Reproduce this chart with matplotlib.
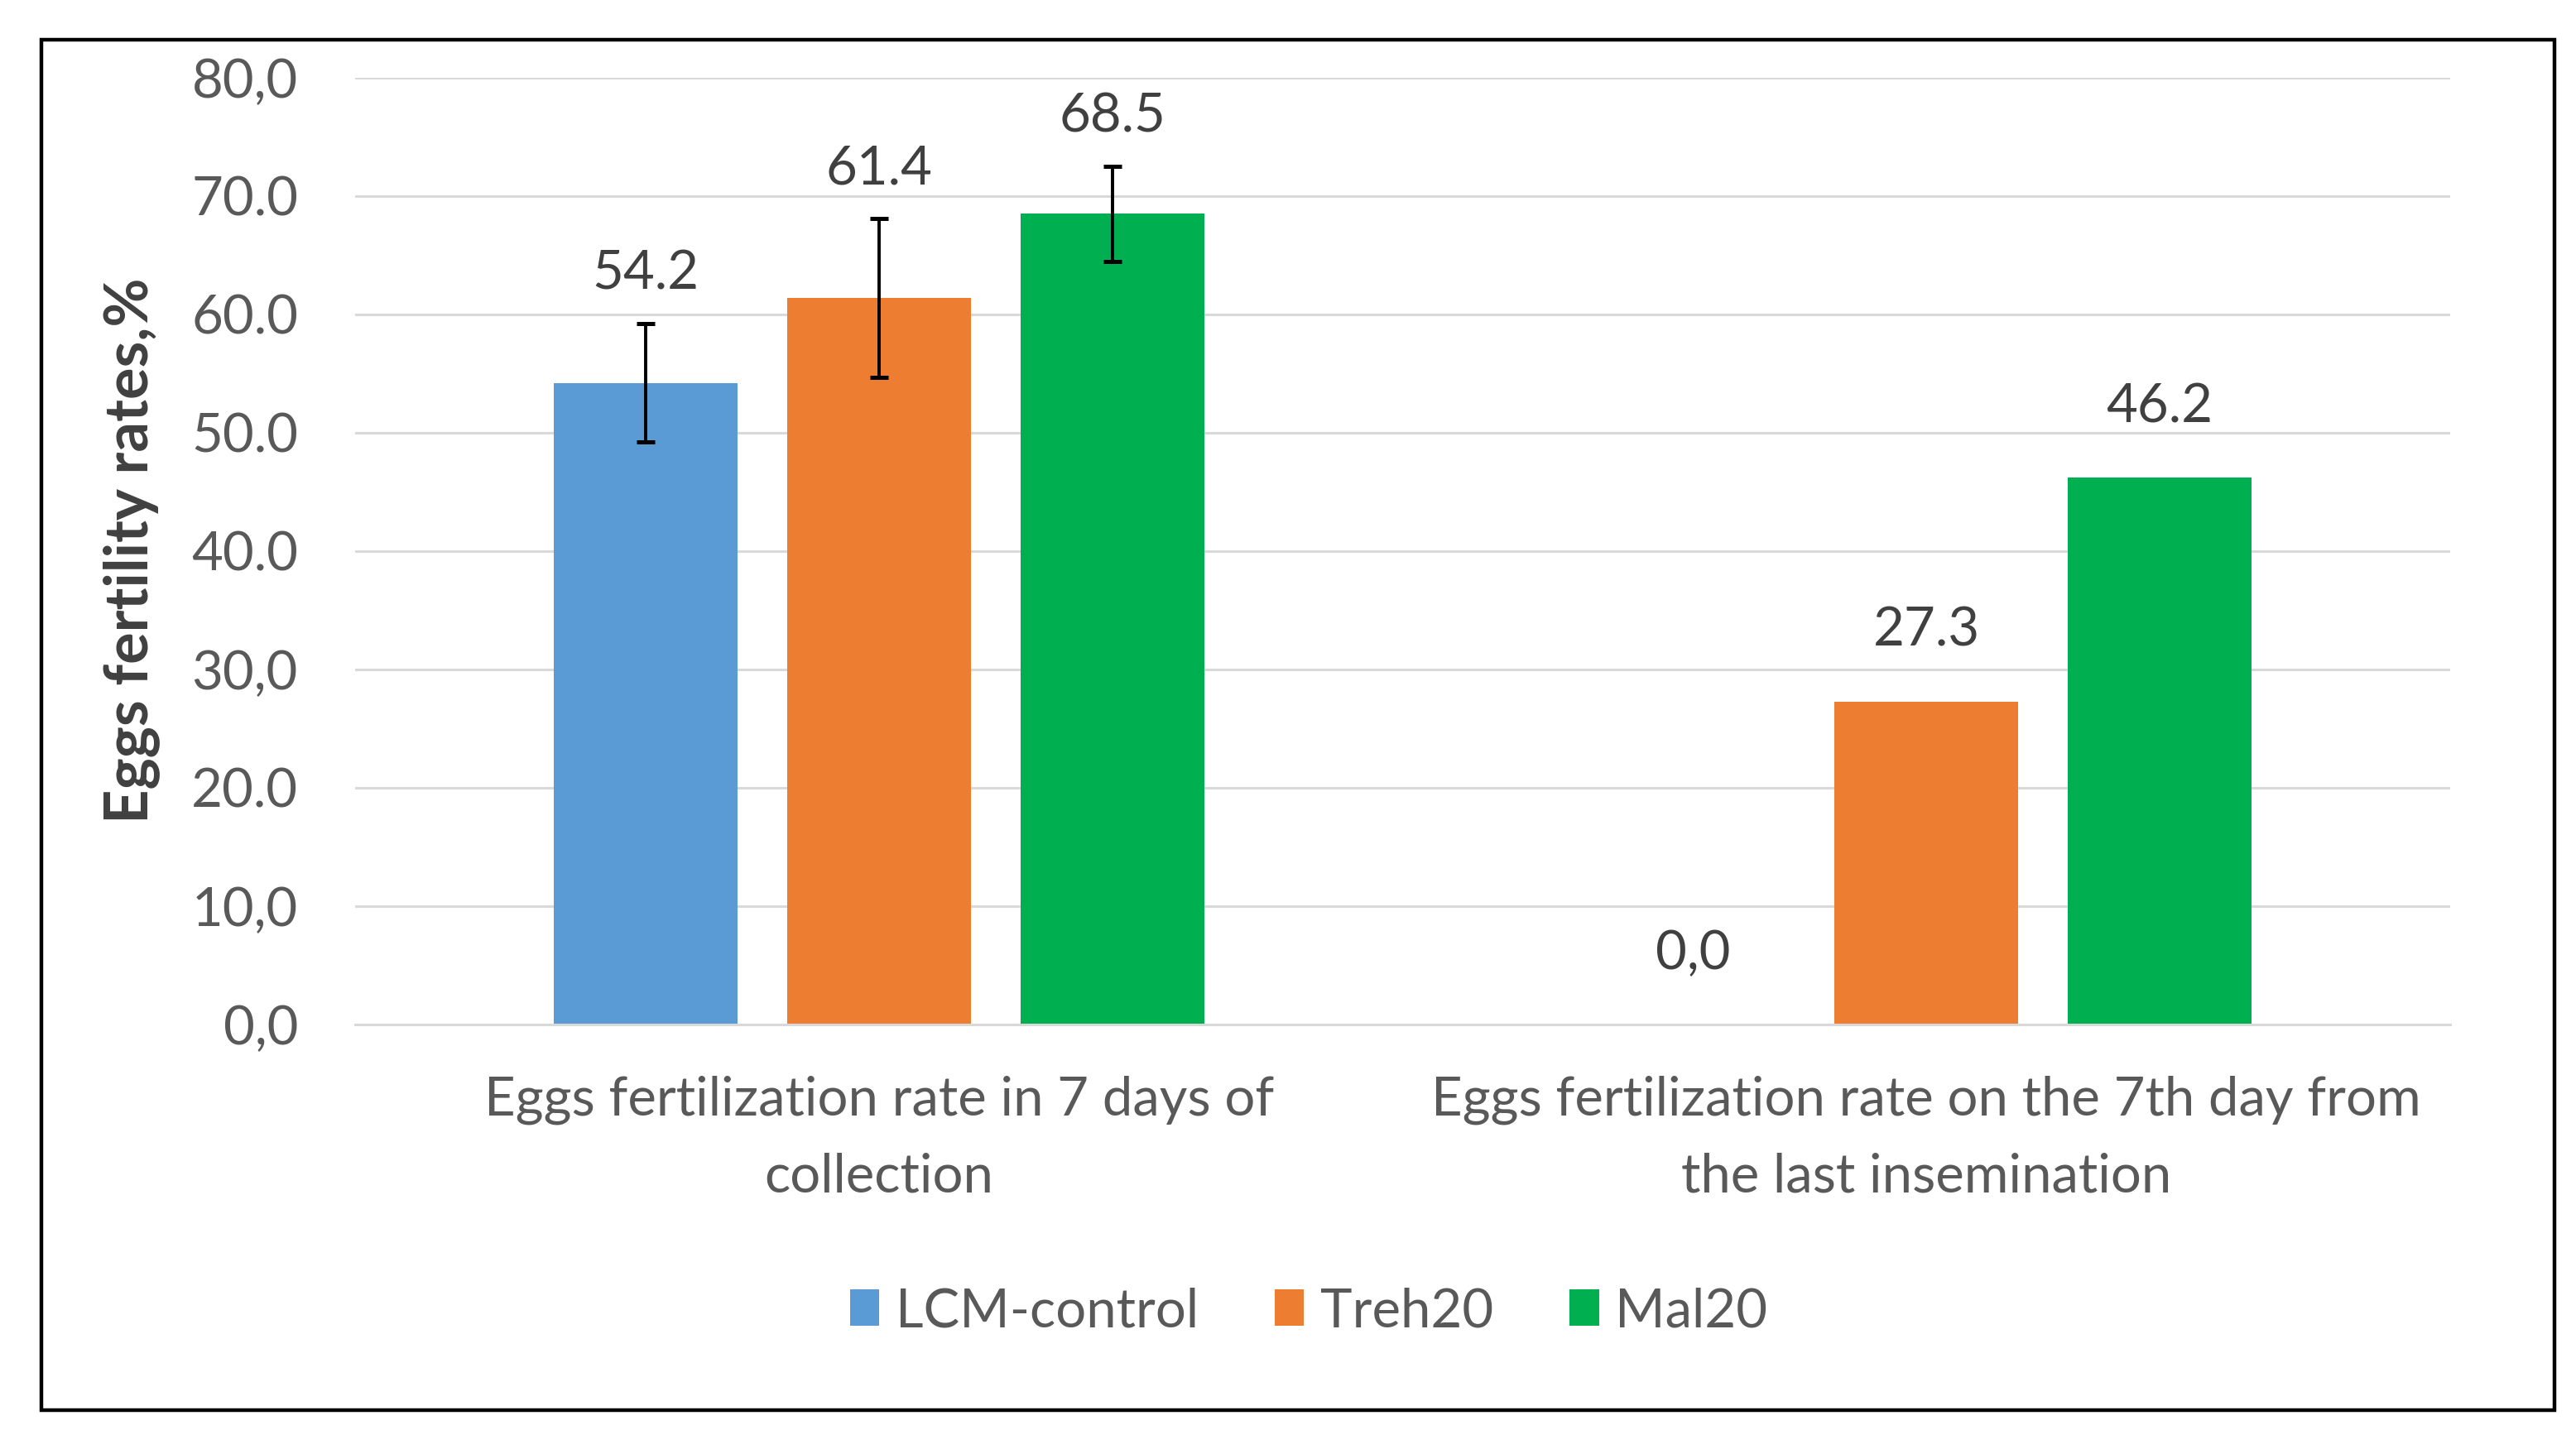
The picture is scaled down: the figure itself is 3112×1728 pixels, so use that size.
import matplotlib.pyplot as plt
import numpy as np
from matplotlib.patches import Rectangle

plt.rcParams['font.family'] = ['Lato', 'DejaVu Sans']

categories = ["Eggs fertilization rate in 7 days of\ncollection",
              "Eggs fertilization rate on the 7th day from\nthe last insemination"]
series = ["LCM-control", "Treh20", "Mal20"]
colors = ["#5B9BD5", "#ED7D31", "#00B050"]

lcm = [54.2, 0.0]
treh = [61.4, 27.3]
mal = [68.5, 46.2]
lcm_err = [5.0, 0.0]
treh_err = [6.7, 0.0]
mal_err = [4.0, 0.0]
lcm_lbl = ["54.2", "0,0"]
treh_lbl = ["61.4", "27.3"]
mal_lbl = ["68.5", "46.2"]

yticks = [0, 10, 20, 30, 40, 50, 60, 70, 80]
ytick_labels = ["0,0", "10,0", "20.0", "30,0", "40.0", "50.0", "60.0", "70.0", "80,0"]

fig = plt.figure(figsize=(15.56, 8.64), dpi=200)
ax = fig.add_axes([0.138, 0.2836, 0.813, 0.662])

x = np.arange(len(categories))
width = 0.175
step = 0.223
text_col = "#595959"
fs = 23.5

vals = [lcm, treh, mal]
errs = [lcm_err, treh_err, mal_err]
lbls = [lcm_lbl, treh_lbl, mal_lbl]
for i, (v, e, l, c, name) in enumerate(zip(vals, errs, lbls, colors, series)):
    pos = x + (i - 1) * step
    ax.bar(pos, v, width, color=c, label=name, zorder=2)
    for j in range(len(categories)):
        if e[j] > 0:
            ax.errorbar(pos[j], v[j], yerr=e[j], fmt='none', ecolor='black',
                        elinewidth=1.4, capsize=4, capthick=1.8, zorder=3)
            ly = v[j] + e[j] + 4.2
        else:
            ly = v[j] + 6.0
        ax.text(pos[j], ly, l[j], ha='center', va='center',
                fontsize=fs, color="#404040", zorder=4)

ax.set_xlim(-0.5, 1.5)
ax.set_ylim(0, 80)
ax.set_yticks(yticks)
ax.set_yticklabels(ytick_labels, fontsize=fs, color=text_col)
ax.set_xticks(x)
ax.set_xticklabels(categories, fontsize=fs, color=text_col, linespacing=1.7)
ax.tick_params(axis='both', length=0)
ax.tick_params(axis='y', pad=25)
ax.tick_params(axis='x', pad=22)
ax.yaxis.grid(True, color="#d9d9d9", linewidth=1.1, zorder=0)
ax.set_axisbelow(True)
for s in ['top', 'right', 'left']:
    ax.spines[s].set_visible(False)
ax.spines['bottom'].set_color("#d9d9d9")
ax.spines['bottom'].set_linewidth(1.1)

fig.text(0.051, 0.615, "Eggs fertility rates,%", rotation=90, ha='center', va='center',
         fontsize=26, fontweight='bold', color="#404040")

fig.legend(loc='center', bbox_to_anchor=(0.508, 0.083), ncol=3, frameon=False,
           fontsize=fs, handlelength=0.55, handleheight=0.65, handletextpad=0.3,
           columnspacing=1.4, labelcolor=text_col)

fig.patches.append(Rectangle((0.016, 0.014), 0.9757, 0.958, transform=fig.transFigure,
                             fill=False, edgecolor='black', linewidth=1.6))

fig.savefig("out.png", dpi=200, facecolor='white')
